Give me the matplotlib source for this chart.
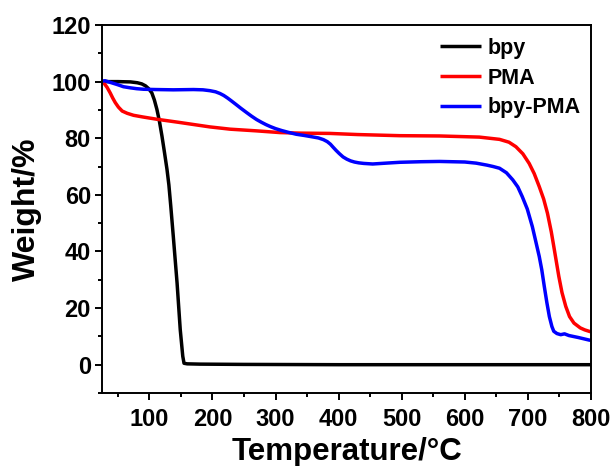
import matplotlib
matplotlib.use("Agg")
import matplotlib.pyplot as plt
from matplotlib.ticker import MultipleLocator

# TGA curves (temperature in C, weight in %)
bpy_t = [25, 28, 50, 70, 81, 88, 94, 99, 104, 108, 112, 116, 120, 124, 128,
         131, 134, 138, 144, 149, 153, 155, 160, 180, 250, 400, 600, 800]
bpy_w = [100, 100, 100, 99.9, 99.6, 99.2, 98.5, 97.5, 96, 93.5, 90.2, 86,
         80.8, 75, 69, 63.5, 56, 45.3, 28.8, 12.4, 3, 0.5, 0.3, 0.2, 0.1, 0,
         0, 0]

pma_t = [25, 28, 33, 38, 42, 46, 51, 57, 65, 75, 90, 112, 144, 196, 228, 270,
         307, 339, 386, 430, 497, 560, 623, 655, 670, 681, 692, 702, 710,
         718, 725, 731, 737, 741, 745, 749, 754, 760, 766, 773, 783, 790, 797,
         800]
pma_w = [100, 99.5, 98, 96, 94.2, 92.6, 91, 89.6, 88.8, 88.1, 87.5, 86.7,
         85.7, 84, 83.2, 82.6, 82, 81.8, 81.7, 81.3, 80.9, 80.8, 80.4, 79.6,
         78.6, 77, 74.5, 71.1, 67.5, 62.9, 58.5, 53.5, 47, 41.8, 36.5, 31.2,
         25.5, 20.6, 17, 14.7, 13, 12.3, 11.8, 11.6]

bp_t = [25, 30, 40, 50, 59, 70, 80, 91, 110, 138, 170, 185, 196, 205, 212,
        218, 224, 230, 237, 245, 254, 262, 270, 278, 285, 292, 300, 310, 320,
        333, 345, 358, 368, 376, 382, 387, 391, 396, 401, 407, 413, 419, 425,
        432, 440, 454, 475, 497, 530, 560, 600, 618, 635, 645, 655, 666, 676,
        684, 691, 699, 707, 712, 718, 722, 726, 730, 734, 738, 741, 746, 752,
        758, 765, 780, 797, 800]
bp_w = [100.2, 100.3, 99.6, 98.9, 98.2, 97.8, 97.5, 97.3, 97.2, 97.1, 97.2,
        97.1, 96.8, 96.4, 95.8, 95.1, 94.2, 93.2, 92.0, 90.6, 89.1, 87.8,
        86.6, 85.6, 84.8, 84.1, 83.4, 82.7, 82.1, 81.4, 81.0, 80.5, 80.1,
        79.5, 78.8, 77.9, 76.9, 75.7, 74.6, 73.4, 72.6, 72.0, 71.6, 71.3,
        71.1, 70.9, 71.2, 71.5, 71.7, 71.8, 71.6, 71.2, 70.5, 70.0, 69.4,
        67.8, 65.3, 62.8, 59.4, 55, 48.8, 44, 38.2, 33.5, 27.6, 22, 17, 13.5,
        11.8, 11, 10.6, 10.9, 10.3, 9.6, 8.7, 8.6]

series = [("bpy", bpy_t, bpy_w, "black"),
          ("PMA", pma_t, pma_w, "#ff0000"),
          ("bpy-PMA", bp_t, bp_w, "#0000ff")]

plt.rcParams["font.family"] = ["Liberation Sans", "DejaVu Sans"]
plt.rcParams["font.weight"] = "bold"

fig = plt.figure(figsize=(6.14, 4.66), dpi=100)
ax = fig.add_axes([102 / 614, 1 - 393 / 466, 489 / 614, 368 / 466])

for name, t, w, col in series:
    ax.plot(t, w, color=col, lw=2.5, label=name, solid_capstyle="butt")

ax.set_xlim(25, 800)
ax.set_ylim(-10, 120)
ax.xaxis.set_major_locator(MultipleLocator(100))
ax.xaxis.set_minor_locator(MultipleLocator(50))
ax.yaxis.set_major_locator(MultipleLocator(20))
ax.yaxis.set_minor_locator(MultipleLocator(10))
ax.tick_params(which="both", direction="out", width=1.4, labelsize=17,
               top=False, right=False)
ax.tick_params(which="major", length=5)
ax.tick_params(axis="x", which="major", pad=6)
ax.tick_params(axis="y", which="major", pad=3)
ax.tick_params(which="minor", length=3)
ax.set_xticks([100, 200, 300, 400, 500, 600, 700, 800])
for s in ax.spines.values():
    s.set_linewidth(1.4)

ax.set_xlabel("Temperature/°C", fontsize=22.5, fontweight="bold")
ax.xaxis.set_label_coords(0.5, -0.119)
ax.set_ylabel("Weight/%", fontsize=23, fontweight="bold")
ax.yaxis.set_label_coords(-0.122, 0.5)

ax.legend(loc="upper left", bbox_to_anchor=(440 / 614, 1 - 38 / 466),
          bbox_transform=fig.transFigure, frameon=False, fontsize=15.5,
          handlelength=1.9, handletextpad=0.3, labelspacing=0.4,
          borderpad=0, borderaxespad=0)

fig.savefig("out.png", dpi=100)
